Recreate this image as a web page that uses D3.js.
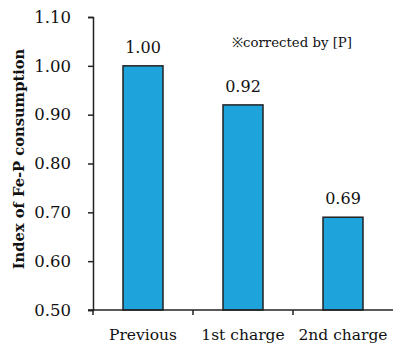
<!DOCTYPE html>
<html>
<head>
<meta charset="utf-8">
<script src="https://cdn.jsdelivr.net/npm/d3@7"></script>
<style>
  html, body { margin: 0; padding: 0; background: #fff; }
  svg { display: block; }
  svg text { font-family: "DejaVu Serif", serif; fill: #111; }
</style>
</head>
<body>
<div id="chart"></div>
<script>
// Fe-P consumption index per charge (corrected by [P])
const categories = ["Previous", "1st charge", "2nd charge"];
const values = [1.00, 0.92, 0.69];
const yTicks = [0.50, 0.60, 0.70, 0.80, 0.90, 1.00, 1.10];

const W = 393, H = 350;
const margin = { top: 17, right: 0, bottom: 40, left: 93 };
const FONT = "'DejaVu Serif', serif";

const svg = d3.select("#chart").append("svg")
  .attr("width", W).attr("height", H);

const x = d3.scaleBand()
  .domain(categories)
  .range([margin.left, margin.left + 300])
  .paddingInner(0.6)
  .paddingOuter(0.3);

const y = d3.scaleLinear()
  .domain([0.5, 1.1])
  .range([310, 17]);

// bars
svg.append("g").selectAll("rect")
  .data(values)
  .join("rect")
  .attr("x", (d, i) => x(categories[i]))
  .attr("y", d => y(d))
  .attr("width", x.bandwidth())
  .attr("height", d => y(0.5) - y(d))
  .attr("fill", "#1ea4db")
  .attr("stroke", "#222")
  .attr("stroke-width", 1.5);

// value labels
svg.append("g").selectAll("text")
  .data(values)
  .join("text")
  .attr("x", (d, i) => x(categories[i]) + x.bandwidth() / 2)
  .attr("y", d => y(d) - 13)
  .attr("text-anchor", "middle")
  .style("font-family", FONT)
  .style("font-size", "16px")
  .text(d => d.toFixed(2));

// y axis
const yAxis = svg.append("g")
  .attr("transform", `translate(${margin.left},0)`)
  .call(d3.axisLeft(y).tickValues(yTicks).tickFormat(d3.format(".2f")).tickSize(5).tickPadding(17));
yAxis.select(".domain").attr("stroke", "#222").attr("stroke-width", 1.5);
yAxis.selectAll(".tick line").attr("stroke", "#222").attr("stroke-width", 1.5);
yAxis.selectAll(".tick text")
  .style("font-size", "16.5px")
  .style("font-family", FONT)
  .attr("fill", "#111");

// x axis: tick marks sit on the boundaries between categories
const xAxisG = svg.append("g").attr("transform", `translate(0,${y(0.5)})`);
xAxisG.append("line")
  .attr("x1", margin.left - 5).attr("x2", W)
  .attr("stroke", "#222").attr("stroke-width", 1.5);
const halfGap = x.step() * x.paddingInner() / 2;
xAxisG.selectAll("line.bt")
  .data(categories.map(c => x(c) - halfGap))
  .join("line")
  .attr("class", "bt")
  .attr("x1", d => d).attr("x2", d => d)
  .attr("y1", 0).attr("y2", 5)
  .attr("stroke", "#222").attr("stroke-width", 1.5);
xAxisG.selectAll("text")
  .data(categories)
  .join("text")
  .attr("x", d => x(d) + x.bandwidth() / 2)
  .attr("y", 30)
  .attr("text-anchor", "middle")
  .style("font-family", FONT)
  .style("font-size", "15.5px")
  .text(d => d);

// y axis title
svg.append("text")
  .attr("transform", `translate(24,159) rotate(-90)`)
  .attr("text-anchor", "middle")
  .style("font-family", FONT)
  .style("font-size", "14.7px")
  .style("font-weight", "bold")
  .text("Index of Fe-P consumption");

// note
svg.append("text")
  .attr("x", 232)
  .attr("y", 47)
  .style("font-family", FONT)
  .style("font-size", "13.3px")
  .text("※corrected by [P]");
</script>
</body>
</html>
